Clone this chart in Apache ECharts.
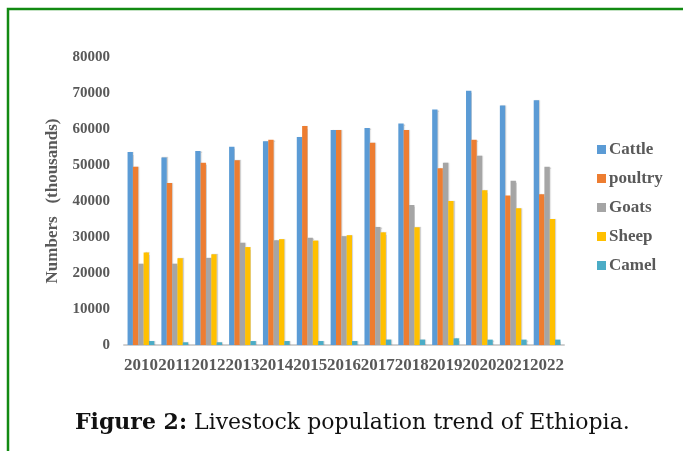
<!DOCTYPE html>
<html>
<head>
<meta charset="utf-8">
<script src="https://cdn.jsdelivr.net/npm/echarts@6/dist/echarts.min.js"></script>
<style>html,body{margin:0;padding:0;background:#fff;}#c{width:683px;height:451px;}</style>
</head>
<body>
<div id="c"></div>
<script>
var years = ['2010','2011','2012','2013','2014','2015','2016','2017','2018','2019','2020','2021','2022'];
var cattle  = [53600,52100,53900,55100,56600,57800,59700,60300,61500,65400,70600,66500,68000];
var poultry = [49500,45000,50600,51300,57000,60800,59700,56200,59700,49100,57000,41500,41900];
var goats   = [22600,22600,24200,28400,29100,29800,30200,32800,38900,50600,52600,45600,49500];
var sheep   = [25700,24100,25200,27200,29400,29000,30500,31300,32700,40000,43000,38000,35000];
var camel   = [1100,750,750,1100,1100,1100,1100,1500,1500,1850,1500,1500,1500];
var yTicks = [0,10000,20000,30000,40000,50000,60000,70000,80000];

var serif = '"Liberation Serif","Times New Roman",serif';
var names = ['Cattle','poultry','Goats','Sheep','Camel'];
var colors = ['#5B9BD5','#ED7D31','#A5A5A5','#FFC000','#4BACC6'];
var data = [cattle, poultry, goats, sheep, camel];

var chart = echarts.init(document.getElementById('c'));
chart.setOption({
  animation: false,
  color: colors,
  grid: {left: 124, right: 119, top: 57, bottom: 106, containLabel: false},
  legend: {
    orient: 'vertical', left: 592, top: 136, itemWidth: 9, itemHeight: 9, itemGap: 12,
    icon: 'rect',
    textStyle: {fontFamily: serif, fontWeight: 'bold', fontSize: 17, color: '#595959', padding: [0, 0, 0, -2]},
    data: names
  },
  xAxis: {
    type: 'category', data: years,
    axisLine: {lineStyle: {color: '#D0D0D0', width: 2}},
    axisTick: {show: false},
    axisLabel: {interval: 0, margin: 12, fontFamily: serif, fontWeight: 'bold', fontSize: 17, color: '#595959'}
  },
  yAxis: {
    type: 'value', min: 0, max: 80000, interval: 10000,
    splitLine: {show: false}, axisLine: {show: false}, axisTick: {show: false},
    axisLabel: {margin: 14, fontFamily: serif, fontWeight: 'bold', fontSize: 15, color: '#595959',
      formatter: function (v) { return yTicks.indexOf(v) >= 0 ? String(v) : ''; }},
    name: 'Numbers   (thousands)', nameLocation: 'middle', nameGap: 62, nameRotate: 90,
    nameTextStyle: {fontFamily: serif, fontWeight: 'bold', fontSize: 17, color: '#595959'}
  },
  series: names.map(function (n, i) {
    return {
      name: n, type: 'bar', data: data[i], barGap: '0%', barCategoryGap: '21%',
      itemStyle: {color: colors[i], shadowColor: 'rgba(0,0,0,0.18)', shadowOffsetX: 1, shadowOffsetY: 0, shadowBlur: 1}
    };
  }),
  graphic: [
    {type: 'polyline', shape: {points: [[8, 451], [8, 9], [683, 9]]}, style: {stroke: '#128A12', lineWidth: 2.5, fill: null}},
    {type: 'text', left: 75, top: 412, style: {
      rich: {b: {fontFamily: '"DejaVu Serif",serif', fontWeight: 'bold', fontSize: 22, fill: '#111'}, n: {fontFamily: '"DejaVu Serif",serif', fontSize: 22, fill: '#111'}},
      text: '{b|Figure 2:}{n| Livestock population trend of Ethiopia.}'
    }}
  ]
});
</script>
</body>
</html>
